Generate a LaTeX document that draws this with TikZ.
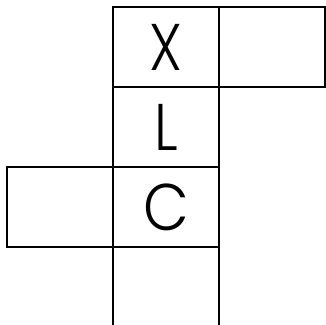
\documentclass[tikz,border=0pt]{standalone}
\usepackage{fontspec}
\setmainfont{Poppins Light}
\begin{document}
\begin{tikzpicture}[x=1pt,y=-1pt,
  cell/.style={draw=black,line width=2.5pt,outer sep=0pt,minimum width=106pt,minimum height=80pt,inner sep=0pt,font=\fontsize{66}{66}\selectfont,text=black},
  edge/.style={line width=2.5pt}]
\useasboundingbox (0,0) rectangle (326,324);
\node[cell] (x) at (166,47) {\scalebox{0.85}[1]{X}};
\node[cell] (r) at (272,47) {};
\node[cell] (l) at (166,127) {\scalebox{0.85}[1]{L}};
\node[cell] (c) at (166,207) {\scalebox{0.9}[1]{C}};
\node[cell] (lf) at (60,207) {};
\coordinate (bl) at (113,326);
\coordinate (br) at (219,326);
\draw[edge] (c.south west) -- (bl);
\draw[edge] (c.south east) -- (br);
\end{tikzpicture}
\end{document}
